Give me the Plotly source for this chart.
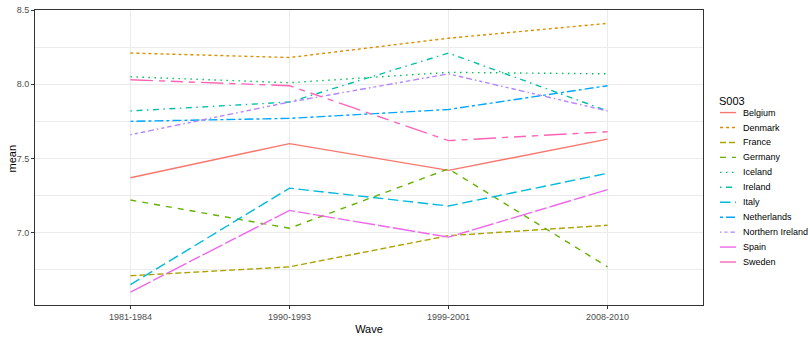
import plotly.graph_objects as go

waves = ["1981-1984", "1990-1993", "1999-2001", "2008-2010"]
countries = ["Belgium", "Denmark", "France", "Germany", "Iceland", "Ireland",
             "Italy", "Netherlands", "Northern Ireland", "Spain", "Sweden"]

belgium = [7.37, 7.60, 7.42, 7.63]
denmark = [8.21, 8.18, 8.31, 8.41]
france = [6.71, 6.77, 6.98, 7.05]
germany = [7.22, 7.03, 7.43, 6.77]
iceland = [8.05, 8.01, 8.08, 8.07]
ireland = [7.82, 7.88, 8.21, 7.82]
italy = [6.65, 7.30, 7.18, 7.40]
netherlands = [7.75, 7.77, 7.83, 7.99]
northern_ireland = [7.66, 7.88, 8.07, 7.82]
spain = [6.60, 7.15, 6.97, 7.29]
sweden = [8.03, 7.99, 7.62, 7.68]

series = [belgium, denmark, france, germany, iceland, ireland,
          italy, netherlands, northern_ireland, spain, sweden]

colors = ["#F8766D", "#DB8E00", "#AEA200", "#64B200", "#00BD5C", "#00C1A7",
          "#00BADE", "#00A6FF", "#B385FF", "#EF67EB", "#FF63B6"]

# ggplot2 default linetype sequence, expressed as pixel dash patterns
u = 1.5
def pattern(hexstr):
    if hexstr == "solid":
        return "solid"
    return ",".join(f"{int(c, 16) * u:g}px" for c in hexstr)

linetypes = ["solid", "22", "42", "44", "13", "1343", "73", "2262",
             "12223242", "F282", "F4448444"]
dashes = [pattern(t) for t in linetypes]

fig = go.Figure()
for name, vals, col, dash in zip(countries, series, colors, dashes):
    fig.add_trace(go.Scatter(x=waves, y=vals, mode="lines", name=name,
                             line=dict(color=col, width=1.4, dash=dash),
                             showlegend=False))

W, H = 810, 338
ml, mr, mt, mb = 35, 107, 5, 31
pw, ph = W - ml - mr, H - mt - mb

def px_x(px):
    return (px - ml) / pw

def px_y(py):
    return (H - mb - py) / ph

# y-axis title placed beside the tick labels
annotations = [dict(text="mean", x=px_x(12), y=px_y(157), xref="paper", yref="paper",
                    textangle=-90, xanchor="center", yanchor="middle", showarrow=False,
                    font=dict(size=11, color="#000000"))]

# legend drawn as keys + labels beside the panel
shapes = []
annotations.append(dict(text="S003", x=px_x(717), y=px_y(98), xref="paper", yref="paper",
                        xanchor="left", yanchor="middle", showarrow=False,
                        font=dict(size=11, color="#000000")))
for i, (name, col, dash) in enumerate(zip(countries, colors, dashes)):
    yy = px_y(110 + i * 15.3)
    shapes.append(dict(type="line", xref="paper", yref="paper",
                       x0=px_x(720), x1=px_x(736), y0=yy, y1=yy,
                       line=dict(color=col, width=1.4, dash=dash)))
    annotations.append(dict(text=name, x=px_x(741), y=yy, xref="paper", yref="paper",
                            xanchor="left", yanchor="middle", showarrow=False,
                            font=dict(size=9, color="#000000")))

grid = "#EBEBEB"
fig.update_layout(
    width=W, height=H,
    margin=dict(l=ml, r=mr, t=mt, b=mb),
    paper_bgcolor="white", plot_bgcolor="white",
    font=dict(family="Liberation Sans, Arial, sans-serif"),
    shapes=shapes, annotations=annotations,
    xaxis=dict(type="category", range=[-0.6, 3.6], showgrid=True, gridcolor=grid,
               gridwidth=1, ticks="outside", ticklen=3, tickcolor="#333333",
               tickfont=dict(size=9, color="#4D4D4D"),
               showline=True, linecolor="#333333", mirror=True, linewidth=1,
               zeroline=False,
               title=dict(text="Wave", font=dict(size=11, color="#000000"), standoff=4)),
    yaxis=dict(range=[6.513, 8.5], tick0=7, dtick=0.5, tickformat=".1f",
               showgrid=True, gridcolor=grid, gridwidth=1,
               minor=dict(tick0=6.75, dtick=0.5, showgrid=True, gridcolor=grid,
                          gridwidth=1),
               ticks="outside", ticklen=3, tickcolor="#333333",
               tickfont=dict(size=9, color="#4D4D4D"),
               showline=True, linecolor="#333333", mirror=True, linewidth=1,
               zeroline=False),
)

fig.write_html("out.html")
